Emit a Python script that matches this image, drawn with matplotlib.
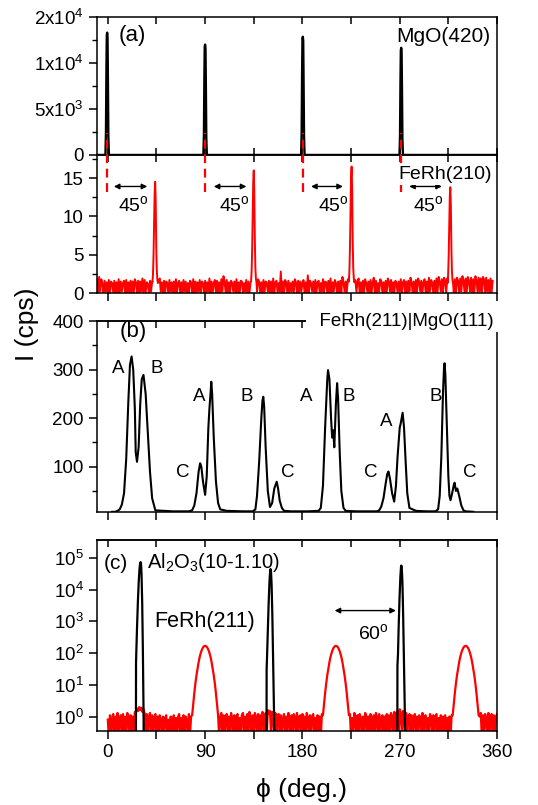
import numpy as np
import matplotlib
matplotlib.use("Agg")
import matplotlib.pyplot as plt
from matplotlib.ticker import MultipleLocator, NullFormatter, FixedLocator

plt.rcParams['font.family'] = ['Liberation Sans', 'DejaVu Sans']
plt.rcParams['mathtext.fontset'] = 'custom'
plt.rcParams['mathtext.rm'] = 'Liberation Sans'
plt.rcParams['mathtext.it'] = 'Liberation Sans:italic'
plt.rcParams['mathtext.bf'] = 'Liberation Sans:bold'

# ---------------- data ----------------
# (a) MgO(420): four sharp substrate peaks
mgo_centers = [-0.6, 90.0, 180.4, 271.4]
mgo_offsets = [-1.6, -1.1, -0.7, -0.35, 0.0, 0.35, 0.7, 1.1, 1.6]
mgo_peaks = [
    [0, 2500, 9000, 13000, 13300, 12800, 8000, 2000, 0],
    [0, 2200, 8000, 11800, 12000, 11600, 7500, 1800, 0],
    [0, 2400, 8800, 12600, 12850, 12400, 7800, 2000, 0],
    [0, 2100, 7800, 11400, 11650, 11200, 7200, 1700, 0],
]

# (a) FeRh(210): noisy baseline (1 deg steps from -10 to 356) + four peaks
ferh210_base = [
    1.9, 0.0, 2.1, 0.2, 1.8, 1.2, 0.1, 1.6, 0.2, 1.4, 0.0, 1.7, 0.0, 1.5, 1.3, 0.1, 1.6, 0.0, 1.4, 0.0,
    1.8, 0.1, 1.5, 0.2, 1.3, 1.6, 0.0, 1.7, 0.0, 1.4, 0.1, 1.6, 0.1, 1.5, 0.0, 1.8, 1.4, 0.0, 1.6, 0.1,
    1.5, 0.2, 1.9, 0.1, 1.7, 0.0, 1.4, 1.2, 0.0, 1.6, 0.2, 1.5, 0.1, 1.3, 0.0, 1.7, 0.1, 1.5, 1.9, 0.2,
    1.4, 0.0, 1.6, 0.0, 1.5, 1.3, 0.1, 1.7, 0.2, 1.4, 0.0, 1.5, 0.0, 1.8, 0.1, 1.3, 1.6, 0.0, 1.4, 0.0,
    1.7, 0.2, 1.5, 0.1, 1.3, 0.0, 1.6, 1.4, 0.0, 1.8, 0.0, 1.5, 0.1, 1.4, 0.2, 1.7, 0.0, 1.5, 1.3, 0.0,
    1.6, 0.1, 1.4, 0.2, 1.9, 0.0, 1.5, 0.0, 1.3, 1.7, 0.1, 1.6, 0.0, 1.4, 0.0, 1.8, 0.2, 2.2, 1.5, 0.1,
    1.7, 0.0, 1.4, 0.0, 1.6, 1.3, 0.2, 1.5, 0.1, 1.8, 0.0, 1.4, 0.0, 1.6, 1.5, 0.1, 1.3, 0.2, 1.7, 0.0,
    1.5, 0.0, 1.4, 2.2, 0.0, 1.6, 0.1, 1.3, 0.2, 1.8, 1.5, 0.0, 1.4, 0.0, 1.7, 0.1, 1.5, 1.3, 0.2, 1.6,
    0.1, 1.5, 0.0, 1.9, 0.0, 1.4, 1.6, 0.1, 1.3, 0.2, 2.8, 0.0, 1.5, 0.0, 1.7, 1.4, 0.0, 1.6, 0.1, 1.3,
    0.2, 1.5, 0.0, 1.8, 1.4, 0.0, 1.6, 0.1, 1.5, 0.2, 1.3, 1.7, 0.0, 1.4, 0.0, 2.3, 0.1, 1.6, 1.3, 0.2,
    1.5, 0.1, 1.7, 0.0, 1.4, 1.6, 0.0, 1.3, 0.2, 1.8, 0.1, 1.5, 1.4, 0.0, 1.6, 0.0, 1.9, 0.1, 1.4, 0.2,
    1.7, 1.3, 0.0, 1.5, 0.0, 1.6, 0.1, 2.1, 1.4, 0.2, 1.5, 0.0, 1.8, 0.0, 1.4, 1.6, 0.1, 1.3, 0.2, 1.7,
    0.1, 1.5, 1.9, 0.0, 1.4, 0.0, 1.6, 0.1, 1.8, 1.3, 0.2, 1.5, 0.0, 1.7, 0.0, 1.4, 2.0, 0.1, 1.6, 0.0,
    1.3, 0.2, 1.8, 1.5, 0.0, 1.4, 0.0, 1.6, 0.1, 1.9, 1.5, 0.2, 1.7, 0.0, 1.4, 0.0, 1.6, 1.3, 0.1, 1.5,
    0.2, 1.8, 0.0, 1.4, 1.7, 0.0, 1.5, 0.1, 1.6, 0.2, 2.0, 1.4, 0.0, 1.5, 0.0, 1.7, 0.1, 1.9, 1.5, 0.2,
    1.6, 0.0, 1.4, 1.8, 0.0, 1.5, 0.1, 2.0, 0.2, 1.7, 1.4, 0.0, 1.6, 0.0, 1.9, 0.1, 2.1, 1.5, 0.2, 1.8,
    0.1, 2.0, 1.6, 0.0, 1.9, 0.0, 1.7, 0.2, 2.1, 1.5, 0.1, 1.8, 0.0, 2.0, 1.6, 0.0, 1.9, 0.2, 2.2, 1.7,
    0.0, 1.9, 0.1, 2.1, 1.6, 0.2, 2.0, 0.0, 1.8, 0.0, 2.2, 1.7, 0.1, 2.0, 0.2, 1.9, 0.0, 2.1, 1.8, 0.1,
    2.0, 0.2, 1.7, 0.0, 1.9, 0.1, 1.6,
]
ferh210_centers = [43.8, 135.0, 225.5, 316.8]
ferh210_offsets = [-2.5, -2.0, -1.5, -1.0, -0.5, 0.0, 0.5, 1.0, 1.5, 2.0, 2.5]
ferh210_peaks = [
    [1.4, 2.5, 5.0, 9.0, 13.0, 14.5, 12.0, 6.0, 3.0, 1.8, 1.3],
    [1.5, 2.8, 5.5, 10.0, 14.5, 16.0, 13.0, 7.0, 3.2, 1.9, 1.4],
    [1.5, 3.0, 6.0, 10.5, 15.0, 16.5, 13.5, 7.0, 3.3, 2.0, 1.4],
    [1.3, 2.4, 4.8, 8.5, 12.5, 13.8, 11.5, 6.0, 2.9, 1.7, 1.3],
]
dash_pos = [-0.6, 90.0, 180.4, 271.4]
arrows45 = [(5.6, 36.5), (98.0, 128.2), (188.0, 217.5), (278.8, 309.0)]
text45_x = [24.1, 117.1, 208.3, 296.7]

# (b) FeRh(211)|MgO(111)
phi_b = [4, 7, 9, 11, 13, 15, 17, 19, 20.5, 22, 23.5, 25, 25.8, 27, 28.5, 30, 31.4, 33, 35, 37, 39, 41, 44,
         60, 75, 78, 80, 82, 84, 85.4, 86.5, 88, 90, 91.5, 93, 94, 95, 95.7, 96.5, 98, 100, 102, 104, 110,
         125, 134, 136.5, 138, 140, 142, 143, 143.8, 144.6, 146, 148, 150, 152, 154, 156.2, 157.5, 159, 161, 163, 170,
         185, 195, 197, 199, 201, 203, 203.7, 205, 206.5, 207.5, 208.5, 209.5, 211, 212.1, 213, 214.5, 216, 218, 220, 230,
         240, 249, 251, 253, 255, 257, 258.5, 259.6, 261, 263, 264.9, 266.5, 268, 270, 271, 272.7, 274, 275.5, 277, 279, 285,
         295, 303, 305.5, 307, 308.5, 310, 311, 311.5, 312.2, 313.5, 315, 316, 317, 318.5, 320, 320.8, 322, 323.3, 325, 327, 329, 331, 338]
I_b = [7, 7, 9, 12, 22, 45, 115, 235, 310, 327, 300, 220, 130, 110, 140, 230, 280, 289, 250, 170, 90, 35, 10,
       8, 8, 10, 20, 45, 90, 107, 100, 70, 42, 80, 180, 220, 250, 275, 250, 160, 70, 25, 12, 9,
       8, 8, 12, 40, 110, 200, 235, 244, 225, 140, 50, 17, 25, 55, 69, 55, 30, 15, 9, 8,
       8, 9, 15, 60, 180, 280, 299, 280, 200, 160, 175, 140, 230, 272, 240, 130, 50, 15, 9, 8,
       8, 8, 10, 18, 35, 65, 85, 90, 75, 45, 28, 60, 120, 180, 190, 211, 180, 110, 45, 15, 9,
       8, 8, 12, 40, 120, 250, 305, 313, 290, 190, 80, 40, 31, 45, 62, 67, 50, 55, 40, 20, 10, 8, 7]
b_labels = [('A', 10, 303), ('B', 45, 303), ('A', 84.8, 244), ('C', 69, 88),
            ('B', 128.8, 244), ('C', 166.4, 88), ('A', 183.6, 244), ('B', 222.7, 244),
            ('C', 243.4, 88), ('A', 257.6, 193), ('B', 302.9, 244), ('C', 334.6, 88)]

# (c) FeRh(211) (red) and Al2O3(10-1.10) (black), log scale; baseline 1 deg steps 0..360
ferh211_base = [
    0.8, 0.2, 1.1, 0.25, 0.9, 1.2, 0.15, 1.0, 0.3, 1.3, 0.2, 0.9, 1.1, 0.25, 1.2, 0.2, 1.0, 0.3, 1.3, 0.9,
    0.2, 1.1, 0.25, 1.0, 0.3, 1.4, 1.3, 1.8, 1.5, 2.0, 1.6, 1.9, 1.4, 1.7, 1.3, 0.2, 1.2, 0.25, 1.0, 1.3,
    0.2, 1.1, 0.3, 0.9, 1.2, 0.15, 1.0, 0.25, 1.1, 0.8, 0.2, 1.0, 0.3, 0.9, 1.1, 0.2, 0.8, 0.25, 1.0, 0.9,
    0.15, 1.1, 0.3, 0.9, 0.2, 1.0, 1.2, 0.25, 0.9, 0.2, 1.1, 0.3, 1.0, 0.8, 0.2, 1.2, 0.25, 1.0, 0.3, 1.1,
    0.9, 0.2, 1.0, 0.3, 1.1, 0.2, 0.9, 0.25, 1.0, 0.3, 1.1, 0.2, 0.9, 0.3, 1.0, 0.2, 1.1, 0.25, 0.9, 0.3,
    1.0, 0.2, 1.2, 0.25, 1.0, 1.3, 0.2, 1.1, 0.3, 0.9, 1.2, 0.2, 1.0, 0.25, 1.3, 0.9, 0.2, 1.1, 0.3, 1.0,
    1.2, 0.15, 0.9, 0.3, 1.1, 1.3, 0.2, 1.0, 0.25, 1.2, 0.2, 1.4, 0.9, 0.3, 1.1, 0.2, 1.3, 1.0, 0.25, 1.2,
    0.2, 1.1, 0.3, 1.4, 1.0, 0.2, 1.3, 0.25, 1.6, 1.2, 1.5, 0.3, 1.4, 1.1, 0.2, 1.3, 0.25, 1.0, 1.2, 0.2,
    1.1, 0.3, 0.9, 1.2, 0.2, 1.0, 0.25, 1.3, 0.9, 0.2, 1.1, 0.3, 1.2, 1.0, 0.15, 1.3, 0.25, 1.0, 1.1, 0.2,
    1.2, 0.3, 1.0, 0.2, 1.3, 0.9, 0.25, 1.1, 0.2, 1.0, 1.2, 0.3, 0.9, 0.2, 1.1, 0.25, 1.0, 0.2, 1.2, 0.9,
    0.2, 1.0, 0.3, 1.1, 0.2, 0.9, 0.3, 1.0, 0.2, 1.1, 0.3, 0.9, 0.2, 1.0, 0.3, 1.1, 0.2, 0.9, 0.3, 1.0,
    0.2, 1.1, 0.3, 1.0, 1.2, 0.2, 0.9, 0.25, 1.3, 1.0, 0.2, 1.1, 0.3, 1.2, 0.9, 0.15, 1.0, 0.25, 1.3, 1.1,
    0.2, 1.0, 0.3, 1.2, 0.9, 0.2, 1.1, 0.25, 1.3, 1.0, 0.2, 1.2, 0.3, 0.9, 1.1, 0.2, 1.0, 0.25, 1.2, 0.3,
    1.1, 0.2, 1.3, 1.0, 0.25, 1.4, 0.2, 1.2, 1.5, 0.3, 1.7, 1.3, 0.25, 1.5, 1.1, 0.2, 1.3, 0.3, 1.0, 1.2,
    0.2, 1.1, 0.25, 0.9, 1.2, 0.2, 1.0, 0.3, 1.1, 0.9, 0.2, 1.3, 0.25, 1.0, 1.1, 0.2, 0.9, 0.3, 1.2, 1.0,
    0.2, 1.1, 0.3, 1.0, 1.2, 0.2, 0.9, 0.25, 1.1, 0.2, 1.0, 0.3, 1.1, 0.2, 0.9, 0.3, 1.0, 0.2, 1.1, 0.3,
    1.0, 0.2, 1.1, 0.3, 0.9, 0.2, 1.0, 0.3, 1.1, 0.2, 0.9, 0.3, 1.0, 0.2, 1.1, 0.3, 0.9, 0.2, 1.0, 0.3,
    1.1, 0.2, 1.2, 0.25, 1.0, 1.3, 0.2, 1.1, 0.3, 1.2, 0.9, 0.2, 1.3, 0.25, 1.0, 1.2, 0.2, 1.1, 0.3, 1.0,
    1.2,
]
ferh211_centers = [90.0, 211.0, 331.0]
ferh211_offsets = list(range(-12, 13))
ferh211_peak = [1.1, 2.5, 5.5, 11, 20, 33, 52, 76, 102, 128, 150, 165, 170,
                165, 150, 128, 102, 76, 52, 33, 20, 11, 5.5, 2.5, 1.1]
al2o3_phi = [
    [26.0, 26.1, 26.4, 27.0, 27.8, 28.6, 29.4, 30.0, 30.3, 30.7, 31.2, 31.8, 32.4, 33.0, 33.3],
    [146.8, 146.9, 147.3, 148.0, 148.8, 149.6, 150.2, 150.5, 150.9, 151.5, 152.2, 153.0, 153.8, 154.2],
    [267.8, 267.9, 268.4, 269.0, 269.8, 270.6, 271.2, 271.5, 271.9, 272.5, 273.2, 274.0, 274.8, 275.2],
]
al2o3_I = [
    [0.1, 50, 120, 600, 4000, 18000, 50000, 70000, 74000, 68000, 30000, 4000, 150, 2, 0.1],
    [0.1, 30, 80, 500, 4000, 20000, 40000, 45000, 40000, 15000, 1500, 40, 1, 0.1],
    [0.1, 40, 90, 600, 5000, 25000, 52000, 58000, 50000, 18000, 1500, 40, 1, 0.1],
]


def merge_scan(phi0, phi1, base, centers, offsets, peaks, half):
    # baseline points, replaced by the peak profile inside each peak window
    phi = np.linspace(phi0, phi1, len(base))
    val = np.array(base, dtype=float)
    keep = np.ones(len(phi), bool)
    for c in centers:
        keep &= np.abs(phi - c) > half
    px = list(phi[keep])
    py = list(val[keep])
    for c, pk in zip(centers, peaks):
        px += [c + o for o in offsets]
        py += list(pk)
    order = np.argsort(px)
    return np.array(px)[order], np.array(py)[order]


def style_axes(ax, top_in=True):
    for s in ax.spines.values():
        s.set_linewidth(1.1)
    ax.set_xlim(-10, 360)
    ax.xaxis.set_major_locator(FixedLocator([0, 90, 180, 270, 360]))
    ax.xaxis.set_minor_locator(FixedLocator([45, 135, 225, 315]))
    ax.tick_params(axis='x', which='both', direction='out', length=6, width=1.1,
                   top=False, bottom=True, labelsize=13.5)
    ax.tick_params(axis='y', which='major', direction='out', length=6, width=1.1,
                   right=False, labelsize=13.5)
    ax.tick_params(axis='y', which='minor', direction='out', length=3.5, width=1.0,
                   right=False)
    if top_in:
        sec = ax.secondary_xaxis('top')
        sec.set_xticks(np.arange(0, 361, 45))
        sec.xaxis.set_major_formatter(NullFormatter())
        sec.tick_params(direction='in', length=5, width=1.1)
        sec.spines['top'].set_linewidth(1.1)


fig = plt.figure(figsize=(5.38, 8.05), dpi=100)
L, W = 0.1803, 0.7435
ax1 = fig.add_axes([L, 0.8075, W, 0.1714])
ax2 = fig.add_axes([L, 0.6360, W, 0.1714])
ax3 = fig.add_axes([L, 0.3636, W, 0.2376])
ax4 = fig.add_axes([L, 0.0919, W, 0.2373])

# ---- (a) MgO(420)
style_axes(ax1, top_in=False)
ax1.tick_params(axis='x', which='both', direction='in', top=True, bottom=True, length=5)
px, py = [-10.0], [0.0]
for c, pk in zip(mgo_centers, mgo_peaks):
    px += [c + o for o in mgo_offsets]
    py += pk
px.append(360.0)
py.append(0.0)
ax1.plot(px, py, color='black', lw=1.7)
ax1.set_ylim(0, 15000)
ax1.set_yticks([0, 5000, 10000, 15000])
ax1.set_yticklabels(['0', r'5x10$^3$', r'1x10$^4$', r'2x10$^4$'])
ax1.yaxis.set_minor_locator(MultipleLocator(2500))
ax1.set_xticklabels([])
ax1.text(22.5, 13000, '(a)', fontsize=16, ha='center', va='center')
ax1.text(354, 12900, 'MgO(420)', fontsize=15, ha='right', va='center')

# ---- (a) FeRh(210)
style_axes(ax2)
x2, y2 = merge_scan(-10, 356, ferh210_base, ferh210_centers,
                    ferh210_offsets, ferh210_peaks, 2.6)
ax2.plot(x2, y2, color='red', lw=1.4)
ax2.set_ylim(0, 18)
ax2.set_yticks([0, 5, 10, 15])
ax2.yaxis.set_minor_locator(MultipleLocator(2.5))
ax2.set_xticklabels([])
ax2.vlines(dash_pos, 13.2, 20.9, colors='red', linestyles=(0, (4, 2.5)),
           lw=1.6, clip_on=False, zorder=10)
for (xa, xb), xt in zip(arrows45, text45_x):
    ax2.annotate('', xy=(xb, 13.9), xytext=(xa, 13.9),
                 arrowprops=dict(arrowstyle='<|-|>', color='black', lw=1.0,
                                 mutation_scale=8, shrinkA=0, shrinkB=0))
    ax2.text(xt, 11.5, r'45$^\mathrm{o}$', fontsize=14, ha='center', va='center')
ax2.text(355, 15.4, 'FeRh(210)', fontsize=14, ha='right', va='center', zorder=12,
         bbox=dict(facecolor='white', edgecolor='none', pad=1.0))

# ---- (b) FeRh(211)|MgO(111)
style_axes(ax3)
ax3.plot(phi_b, I_b, color='black', lw=1.5)
ax3.set_ylim(6, 400)
ax3.set_yticks([100, 200, 300, 400])
ax3.yaxis.set_minor_locator(FixedLocator([50, 150, 250, 350]))
ax3.set_xticklabels([])
ax3.text(23.5, 378, '(b)', fontsize=16, ha='center', va='center')
for lab, xl, yl in b_labels:
    ax3.text(xl, yl, lab, fontsize=13.5, ha='center', va='center')
ax3.text(361.3, 400, '  FeRh(211)|MgO(111) ', fontsize=13.5, ha='right', va='center',
         zorder=12, bbox=dict(facecolor='white', edgecolor='none', pad=2.0))

# ---- (c) FeRh(211) and Al2O3(10-1.10)
style_axes(ax4)
ax4.set_yscale('log')
x4, y4 = merge_scan(0, 360, ferh211_base, ferh211_centers, ferh211_offsets,
                    [ferh211_peak] * 3, 12.5)
ax4.plot(x4, y4, color='red', lw=1.6)
for xs, ys in zip(al2o3_phi, al2o3_I):
    ax4.plot(xs, ys, color='black', lw=1.6)
ax4.set_ylim(0.35, 3.7e5)
ax4.set_yticks([1, 10, 100, 1e3, 1e4, 1e5])
ax4.text(7.1, 6.9e4, '(c)', fontsize=15, ha='center', va='center')
ax4.text(36.4, 7.0e4, r'Al$_2$O$_3$(10-1.10)', fontsize=14.5, ha='left', va='center')
ax4.text(43.2, 1000, 'FeRh(211)', fontsize=15.5, ha='left', va='center')
ax4.annotate('', xy=(266.5, 2200), xytext=(209.8, 2200),
             arrowprops=dict(arrowstyle='<|-|>', color='black', lw=1.0,
                             mutation_scale=8, shrinkA=0, shrinkB=0))
ax4.text(245.3, 445, r'60$^\mathrm{o}$', fontsize=14, ha='center', va='center')

fig.text(27 / 538, 1 - 324 / 805, 'I (cps)', rotation=90, fontsize=19,
         ha='center', va='center')
fig.text(302 / 538, 1 - 790 / 805, '\u03d5 (deg.)', fontsize=19,
         ha='center', va='center')

fig.savefig('out.png', dpi=100)
